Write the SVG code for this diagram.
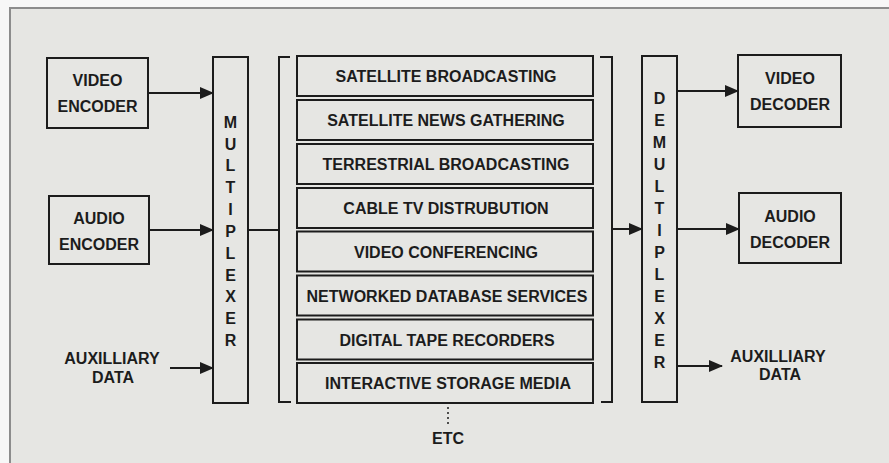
<svg xmlns="http://www.w3.org/2000/svg" width="889" height="463" viewBox="0 0 889 463">
<defs>
<marker id="ah" markerWidth="14" markerHeight="12" refX="13" refY="6" orient="auto" markerUnits="userSpaceOnUse">
<path d="M0,0 L14,6 L0,12 Z" fill="#1c1c1c"/>
</marker>
<style>
.bx{fill:none;stroke:#1c1c1c;stroke-width:2}
.ln{fill:none;stroke:#1c1c1c;stroke-width:2}
.t{font-family:"Liberation Sans",Arial,sans-serif;font-weight:bold;font-size:16px;fill:#1c1c1c;text-anchor:middle}
.s{font-family:"Liberation Sans",Arial,sans-serif;font-weight:bold;font-size:16px;fill:#1c1c1c;text-anchor:middle}
</style>
</defs>
<rect x="0" y="0" width="889" height="463" fill="#f7f7f7"/>
<rect x="10" y="8" width="890" height="470" fill="#e6e6e3" stroke="#8c8c8c" stroke-width="2"/>

<g id="video-encoder">
<rect class="bx" x="47" y="58" width="101" height="70"/>
<text class="t" x="97.5" y="86">VIDEO</text>
<text class="t" x="97.5" y="112">ENCODER</text>
</g>
<g id="audio-encoder">
<rect class="bx" x="49" y="196" width="100" height="68"/>
<text class="t" x="99" y="224">AUDIO</text>
<text class="t" x="99" y="250">ENCODER</text>
</g>
<g id="aux-in">
<text class="t" x="112" y="364">AUXILLIARY</text>
<text class="t" x="113" y="383">DATA</text>
</g>
<g id="multiplexer">
<rect class="bx" x="213" y="57" width="35" height="346"/>
<text class="t" x="230.5" y="128">M</text>
<text class="t" x="230.5" y="150">U</text>
<text class="t" x="230.5" y="171">L</text>
<text class="t" x="230.5" y="193">T</text>
<text class="t" x="230.5" y="215">I</text>
<text class="t" x="230.5" y="237">P</text>
<text class="t" x="230.5" y="259">L</text>
<text class="t" x="230.5" y="281">E</text>
<text class="t" x="230.5" y="302">X</text>
<text class="t" x="230.5" y="324">E</text>
<text class="t" x="230.5" y="346">R</text>
</g>
<g id="applications">
<path class="ln" d="M290,57 H279 V402 H291"/>
<path class="ln" d="M600,57 H612 V402 H601"/>
<rect class="bx" x="297" y="56" width="296" height="40"/>
<text class="s" x="446" y="82">SATELLITE BROADCASTING</text>
<rect class="bx" x="297" y="100" width="296" height="40"/>
<text class="s" x="446" y="126">SATELLITE NEWS GATHERING</text>
<rect class="bx" x="297" y="144" width="296" height="40"/>
<text class="s" x="446" y="170">TERRESTRIAL BROADCASTING</text>
<rect class="bx" x="297" y="188" width="296" height="40"/>
<text class="s" x="446" y="214">CABLE TV DISTRUBUTION</text>
<rect class="bx" x="297" y="231.5" width="296" height="40"/>
<text class="s" x="446" y="257.5">VIDEO CONFERENCING</text>
<rect class="bx" x="297" y="275.5" width="296" height="40"/>
<text class="s" x="447" y="301.5">NETWORKED DATABASE SERVICES</text>
<rect class="bx" x="297" y="319.5" width="296" height="40"/>
<text class="s" x="447" y="345.5">DIGITAL TAPE RECORDERS</text>
<rect class="bx" x="297" y="363" width="296" height="40"/>
<text class="s" x="448" y="389">INTERACTIVE STORAGE MEDIA</text>
<line x1="448" y1="407" x2="448" y2="424" stroke="#1c1c1c" stroke-width="1.5" stroke-dasharray="2,3"/>
<text class="t" x="448" y="444">ETC</text>
</g>
<g id="demultiplexer">
<rect class="bx" x="642" y="56" width="35" height="346"/>
<text class="t" x="659.5" y="104">D</text>
<text class="t" x="659.5" y="126">E</text>
<text class="t" x="659.5" y="148">M</text>
<text class="t" x="659.5" y="170">U</text>
<text class="t" x="659.5" y="192">L</text>
<text class="t" x="659.5" y="214">T</text>
<text class="t" x="659.5" y="236">I</text>
<text class="t" x="659.5" y="258">P</text>
<text class="t" x="659.5" y="280">L</text>
<text class="t" x="659.5" y="302">E</text>
<text class="t" x="659.5" y="324">X</text>
<text class="t" x="659.5" y="346">E</text>
<text class="t" x="659.5" y="368">R</text>
</g>
<g id="video-decoder">
<rect class="bx" x="738" y="55" width="103" height="72"/>
<text class="t" x="790" y="84">VIDEO</text>
<text class="t" x="790" y="110">DECODER</text>
</g>
<g id="audio-decoder">
<rect class="bx" x="739" y="193" width="102" height="70"/>
<text class="t" x="790" y="222">AUDIO</text>
<text class="t" x="790" y="248">DECODER</text>
</g>
<g id="aux-out">
<text class="t" x="778" y="362">AUXILLIARY</text>
<text class="t" x="780" y="380">DATA</text>
</g>
<g id="connectors">
<line class="ln" x1="148" y1="93" x2="213" y2="93" marker-end="url(#ah)"/>
<line class="ln" x1="149" y1="230" x2="213" y2="230" marker-end="url(#ah)"/>
<line class="ln" x1="170" y1="368" x2="213" y2="368" marker-end="url(#ah)"/>
<line class="ln" x1="248" y1="230" x2="279" y2="230"/>
<line class="ln" x1="612" y1="229" x2="642" y2="229" marker-end="url(#ah)"/>
<line class="ln" x1="677" y1="91" x2="738" y2="91" marker-end="url(#ah)"/>
<line class="ln" x1="677" y1="229" x2="739" y2="229" marker-end="url(#ah)"/>
<line class="ln" x1="677" y1="366" x2="722" y2="366" marker-end="url(#ah)"/>
</g>
</svg>
